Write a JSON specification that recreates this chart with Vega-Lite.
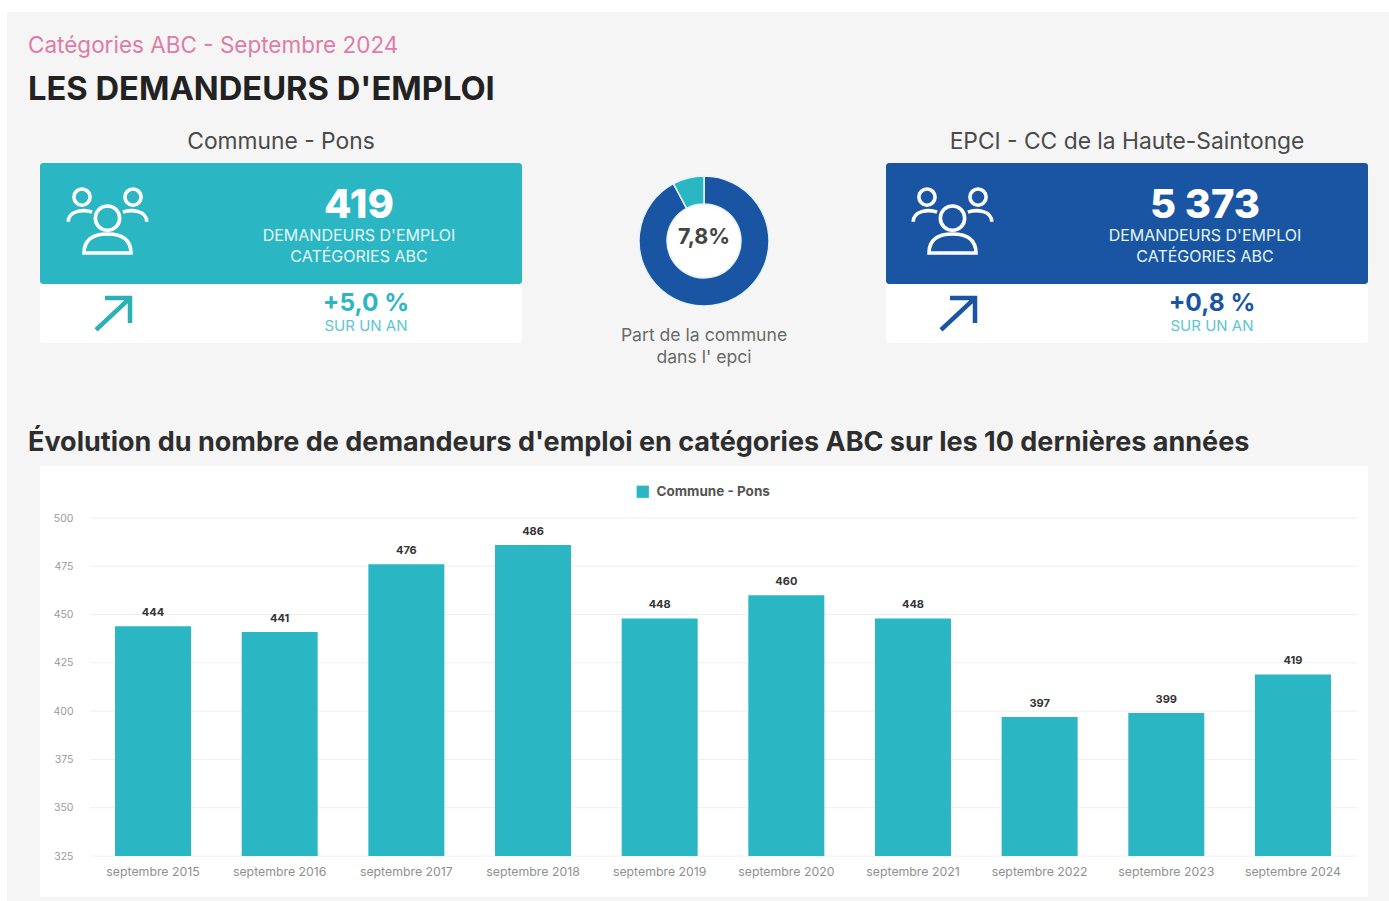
{
"$schema":"https://vega.github.io/schema/vega-lite/v6.json",
"width":1389,"height":901,"padding":0,
"autosize":{"type":"fit","contains":"padding"},
"background":"#ffffff",
"config":{"view":{"stroke":null},"font":"Inter","text":{"font":"Inter"}},
"resolve":{"scale":{"x":"independent","y":"independent","color":"independent","theta":"independent"},"axis":{"x":"independent","y":"independent"},"legend":{"color":"independent"}},
"datasets":{
"cartes":[{"carte":"Commune - Pons","valeur":"419","evolution":"+5,0 %"},{"carte":"EPCI - CC de la Haute-Saintonge","valeur":"5 373","evolution":"+0,8 %"}],
"libelles":[{"carte":"Commune - Pons","ligne":"DEMANDEURS D'EMPLOI"},{"carte":"Commune - Pons","ligne":"CATÉGORIES ABC"},{"carte":"EPCI - CC de la Haute-Saintonge","ligne":"DEMANDEURS D'EMPLOI"},{"carte":"EPCI - CC de la Haute-Saintonge","ligne":"CATÉGORIES ABC"}],
"bars":[
{"mois":"septembre 2015","n":444,"serie":"Commune - Pons"},
{"mois":"septembre 2016","n":441,"serie":"Commune - Pons"},
{"mois":"septembre 2017","n":476,"serie":"Commune - Pons"},
{"mois":"septembre 2018","n":486,"serie":"Commune - Pons"},
{"mois":"septembre 2019","n":448,"serie":"Commune - Pons"},
{"mois":"septembre 2020","n":460,"serie":"Commune - Pons"},
{"mois":"septembre 2021","n":448,"serie":"Commune - Pons"},
{"mois":"septembre 2022","n":397,"serie":"Commune - Pons"},
{"mois":"septembre 2023","n":399,"serie":"Commune - Pons"},
{"mois":"septembre 2024","n":419,"serie":"Commune - Pons"}],
"donut":[{"vue":"part","partie":"Reste de l'EPCI","v":4954,"rang":1},{"vue":"part","partie":"Commune","v":419,"rang":2}]
},
"layer":[
{"data":{"values":[{"zone":"fond"}]},"mark":{"type":"rect","fill":"#f5f5f5"},"encoding":{
"x":{"field":"zone","type":"nominal","axis":null,"scale":{"range":[7,1389],"padding":0}},
"y":{"field":"zone","type":"nominal","axis":null,"scale":{"range":[12,901],"padding":0}}}},
{"data":{"values":[{"zone":"graphique"}]},"mark":{"type":"rect","fill":"#ffffff"},"encoding":{
"x":{"field":"zone","type":"nominal","axis":null,"scale":{"range":[40,1368],"padding":0}},
"y":{"field":"zone","type":"nominal","axis":null,"scale":{"range":[466,897],"padding":0}}}},
{"data":{"name":"cartes"},"mark":{"type":"rect","fill":"#ffffff","cornerRadius":3},"encoding":{
"x":{"field":"carte","type":"nominal","axis":null,"scale":{"domain":["Commune - Pons","EPCI - CC de la Haute-Saintonge"],"range":[40,1368],"paddingInner":0.43026,"paddingOuter":0}},
"y":{"datum":"bloc","type":"nominal","axis":null,"scale":{"range":[284,343],"padding":0}}}},
{"data":{"name":"cartes"},"mark":{"type":"rect","cornerRadius":3},"encoding":{
"x":{"field":"carte","type":"nominal","axis":null,"scale":{"domain":["Commune - Pons","EPCI - CC de la Haute-Saintonge"],"range":[40,1368],"paddingInner":0.43026,"paddingOuter":0}},
"y":{"datum":"bloc","type":"nominal","axis":null,"scale":{"range":[163,284],"padding":0}},
"color":{"field":"carte","type":"nominal","legend":null,"scale":{"domain":["Commune - Pons","EPCI - CC de la Haute-Saintonge"],"range":["#2bb6c4","#1a55a4"]}}}},
{"data":{"values":[{"t":"Catégories ABC - Septembre 2024"}]},"mark":{"type":"text","align":"left","baseline":"middle","fontSize":22.5,"fontWeight":400,"color":"#e07ba6"},"encoding":{
"x":{"field":"t","type":"nominal","axis":null,"scale":{"range":[28,28],"padding":0}},
"y":{"field":"t","type":"nominal","axis":null,"scale":{"range":[46,46],"padding":0}},
"text":{"field":"t"}}},
{"data":{"values":[{"t":"LES DEMANDEURS D'EMPLOI"}]},"mark":{"type":"text","align":"left","baseline":"middle","fontSize":32.7,"fontWeight":700,"color":"#222222"},"encoding":{
"x":{"field":"t","type":"nominal","axis":null,"scale":{"range":[28,28],"padding":0}},
"y":{"field":"t","type":"nominal","axis":null,"scale":{"range":[90,90],"padding":0}},
"text":{"field":"t"}}},
{"data":{"values":[{"t":"Évolution du nombre de demandeurs d'emploi en catégories ABC sur les 10 dernières années"}]},"mark":{"type":"text","align":"left","baseline":"middle","fontSize":27,"fontWeight":700,"color":"#2e2e2e"},"encoding":{
"x":{"field":"t","type":"nominal","axis":null,"scale":{"range":[28,28],"padding":0}},
"y":{"field":"t","type":"nominal","axis":null,"scale":{"range":[443,443],"padding":0}},
"text":{"field":"t"}}},
{"data":{"name":"cartes"},"mark":{"type":"text","align":"center","baseline":"middle","fontSize":22.8,"color":"#4a4a4a"},"encoding":{
"x":{"field":"carte","type":"nominal","axis":null,"scale":{"domain":["Commune - Pons","EPCI - CC de la Haute-Saintonge"],"range":[281,1127],"padding":0}},
"y":{"datum":"a","type":"nominal","axis":null,"scale":{"range":[142,142],"padding":0}},
"text":{"field":"carte"}}},
{"data":{"name":"cartes"},"mark":{"type":"text","align":"center","baseline":"middle","fontSize":40,"fontWeight":800,"color":"#ffffff"},"encoding":{
"x":{"field":"carte","type":"nominal","axis":null,"scale":{"domain":["Commune - Pons","EPCI - CC de la Haute-Saintonge"],"range":[359,1205],"padding":0}},
"y":{"datum":"a","type":"nominal","axis":null,"scale":{"range":[206,206],"padding":0}},
"text":{"field":"valeur"}}},
{"data":{"name":"libelles"},"mark":{"type":"text","align":"center","baseline":"middle","fontSize":16,"color":"#e6f7f9"},"encoding":{
"x":{"field":"carte","type":"nominal","axis":null,"scale":{"domain":["Commune - Pons","EPCI - CC de la Haute-Saintonge"],"range":[359,1205],"padding":0}},
"y":{"field":"ligne","type":"nominal","axis":null,"scale":{"domain":["DEMANDEURS D'EMPLOI","CATÉGORIES ABC"],"range":[236,257],"padding":0}},
"text":{"field":"ligne"}}},
{"data":{"name":"cartes"},"mark":{"type":"text","align":"center","baseline":"middle","fontSize":24.5,"fontWeight":700},"encoding":{
"x":{"field":"carte","type":"nominal","axis":null,"scale":{"domain":["Commune - Pons","EPCI - CC de la Haute-Saintonge"],"range":[366,1212],"padding":0}},
"y":{"datum":"a","type":"nominal","axis":null,"scale":{"range":[304,304],"padding":0}},
"color":{"field":"carte","type":"nominal","legend":null,"scale":{"domain":["Commune - Pons","EPCI - CC de la Haute-Saintonge"],"range":["#2bb6c4","#1a55a4"]}},
"text":{"field":"evolution"}}},
{"data":{"name":"cartes"},"mark":{"type":"text","align":"center","baseline":"middle","fontSize":15,"fontWeight":400,"text":"SUR UN AN"},"encoding":{
"x":{"field":"carte","type":"nominal","axis":null,"scale":{"domain":["Commune - Pons","EPCI - CC de la Haute-Saintonge"],"range":[366,1212],"padding":0}},
"y":{"datum":"a","type":"nominal","axis":null,"scale":{"range":[326,326],"padding":0}},
"color":{"field":"carte","type":"nominal","legend":null,"scale":{"domain":["Commune - Pons","EPCI - CC de la Haute-Saintonge"],"range":["#5cc6d0","#5cc6d0"]}}}},
{"data":{"name":"cartes"},"mark":{"type":"point","filled":false,"stroke":"#ffffff","strokeWidth":3.6,"opacity":1,"size":6561,"shape":"M-.3 -.07a.3 .3 0 1 0 .6 0a.3 .3 0 1 0 -.6 0ZM-.83 -.59a.2 .2 0 1 0 .4 0a.2 .2 0 1 0 -.4 0ZM.43 -.59a.2 .2 0 1 0 .4 0a.2 .2 0 1 0 -.4 0ZM-.58 .79C-.58 .42 -.3 .32 0 .32C.3 .32 .58 .42 .58 .79ZM-.97 .02C-.97 -.25 -.6 -.3 -.38 -.22M.97 .02C.97 -.25 .6 -.3 .38 -.22"},"encoding":{
"x":{"field":"carte","type":"nominal","axis":null,"scale":{"domain":["Commune - Pons","EPCI - CC de la Haute-Saintonge"],"range":[107.5,952.5],"padding":0}},
"y":{"datum":"a","type":"nominal","axis":null,"scale":{"range":[221,221],"padding":0}}}},
{"data":{"name":"cartes"},"mark":{"type":"point","filled":false,"strokeWidth":4.5,"opacity":1,"size":1156,"shape":"M-1 .94L1 -.94M-.47 -.94L1 -.94L1 .53"},"encoding":{
"x":{"field":"carte","type":"nominal","axis":null,"scale":{"domain":["Commune - Pons","EPCI - CC de la Haute-Saintonge"],"range":[113,958],"padding":0}},
"y":{"datum":"a","type":"nominal","axis":null,"scale":{"range":[314,314],"padding":0}},
"stroke":{"field":"carte","type":"nominal","legend":null,"scale":{"domain":["Commune - Pons","EPCI - CC de la Haute-Saintonge"],"range":["#2bb0b4","#1a55a4"]}}}},
{"data":{"name":"donut"},"transform":[{"filter":"datum.rang==1"}],"mark":{"type":"point","filled":true,"fill":"#ffffff","opacity":1,"size":5476},"encoding":{
"x":{"field":"vue","type":"nominal","axis":null,"scale":{"range":[704,704],"padding":0}},
"y":{"field":"vue","type":"nominal","axis":null,"scale":{"range":[241,241],"padding":0}}}},
{"data":{"name":"donut"},"mark":{"type":"arc","radius":65,"radius2":37,"stroke":"#e6f5fa","strokeWidth":1.5},"encoding":{
"x":{"field":"vue","type":"nominal","axis":null,"scale":{"range":[704,704],"padding":0}},
"y":{"field":"vue","type":"nominal","axis":null,"scale":{"range":[241,241],"padding":0}},
"theta":{"field":"v","type":"quantitative","stack":true},
"order":{"field":"rang"},
"color":{"field":"partie","type":"nominal","legend":null,"scale":{"domain":["Reste de l'EPCI","Commune"],"range":["#1a55a4","#2bb6c4"]}}}},
{"data":{"values":[{"t":"7,8%"}]},"mark":{"type":"text","align":"center","baseline":"middle","fontSize":21.5,"fontWeight":700,"color":"#444444"},"encoding":{
"x":{"field":"t","type":"nominal","axis":null,"scale":{"range":[704,704],"padding":0}},
"y":{"field":"t","type":"nominal","axis":null,"scale":{"range":[238,238],"padding":0}},
"text":{"field":"t"}}},
{"data":{"values":[{"t":"Part de la commune"},{"t":"dans l' epci"}]},"mark":{"type":"text","align":"center","baseline":"middle","fontSize":17.6,"color":"#6a6a6a"},"encoding":{
"x":{"datum":"a","type":"nominal","axis":null,"scale":{"range":[704,704],"padding":0}},
"y":{"field":"t","type":"nominal","axis":null,"scale":{"domain":["Part de la commune","dans l' epci"],"range":[336,358],"padding":0}},
"text":{"field":"t"}}},
{"data":{"values":[{"g":325},{"g":350},{"g":375},{"g":400},{"g":425},{"g":450},{"g":475},{"g":500}]},"mark":{"type":"rule","stroke":"#eeeeee","strokeWidth":1},"encoding":{
"x":{"datum":0,"type":"quantitative","axis":null,"scale":{"domain":[0,1],"range":[90,1357]}},
"x2":{"datum":1},
"y":{"field":"g","type":"quantitative","axis":null,"scale":{"domain":[325,500],"range":[856,518]}}}},
{"data":{"name":"bars"},"mark":{"type":"bar"},"encoding":{
"x":{"field":"mois","type":"nominal","sort":null,"scale":{"range":[89.7,1356.3],"paddingInner":0.4,"paddingOuter":0.2},
"axis":{"orient":"bottom","offset":-45,"title":null,"domain":false,"ticks":false,"labelAngle":0,"labelPadding":9,"labelFontSize":12.3,"labelColor":"#8f8f8f","labelFont":"Inter","zindex":1}},
"y":{"field":"n","type":"quantitative","stack":null,"scale":{"domain":[325,500],"range":[856,518]},
"axis":{"orient":"left","offset":-73,"title":null,"domain":false,"ticks":false,"grid":false,"values":[325,350,375,400,425,450,475,500],"labelPadding":0,"labelFontSize":10.5,"labelColor":"#9a9a9a","labelFont":"Inter","zindex":1}},
"y2":{"datum":325},
"color":{"field":"serie","type":"nominal","scale":{"domain":["Commune - Pons"],"range":["#2bb6c4"]},
"legend":{"orient":"none","legendX":636,"legendY":485,"title":null,"symbolType":"square","symbolSize":150,"symbolStrokeWidth":0,"labelFontSize":13.5,"labelFontWeight":700,"labelColor":"#555555","labelFont":"Inter","labelOffset":7,"zindex":1}}}},
{"data":{"name":"bars"},"mark":{"type":"text","align":"center","baseline":"middle","dy":-13,"fontSize":11,"fontWeight":700,"color":"#333333"},"encoding":{
"x":{"field":"mois","type":"nominal","sort":null,"axis":null,"scale":{"type":"band","range":[89.7,1356.3],"paddingInner":0.4,"paddingOuter":0.2}},
"y":{"field":"n","type":"quantitative","stack":null,"axis":null,"scale":{"domain":[325,500],"range":[856,518]}},
"text":{"field":"n"}}}
]
}
